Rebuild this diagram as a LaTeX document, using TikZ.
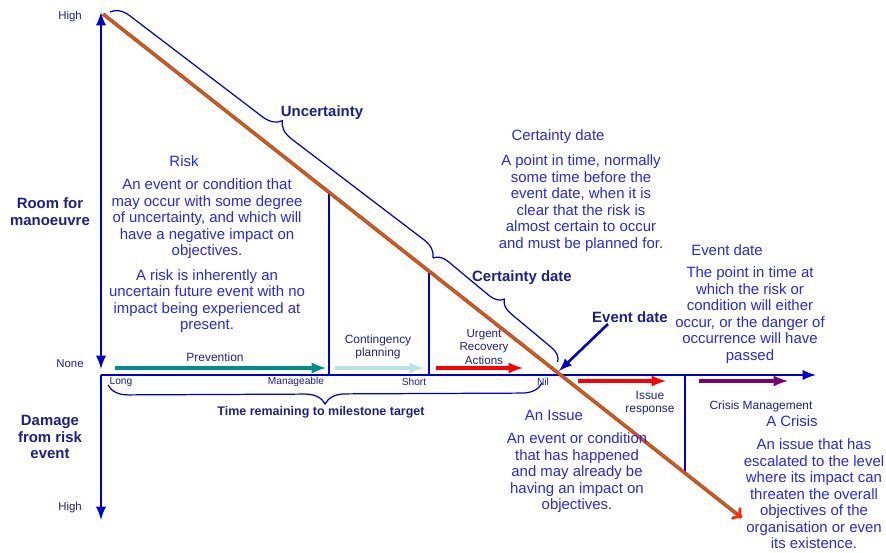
\documentclass[tikz,border=0pt]{standalone}
\usepackage{fontspec}
\setmainfont{Liberation Sans}
\usepackage{tikz}
\usetikzlibrary{backgrounds,arrows,decorations.pathreplacing}
\definecolor{xblue}{RGB}{0,0,205}
\definecolor{xtext}{RGB}{40,40,220}
\definecolor{xnavy}{RGB}{30,30,135}
\definecolor{xteal}{RGB}{0,140,140}
\definecolor{xcyan}{RGB}{185,225,230}
\definecolor{xred}{RGB}{250,0,0}
\definecolor{xpurple}{RGB}{120,0,120}
\definecolor{xorange}{RGB}{240,45,20}
\definecolor{xolive}{RGB}{120,150,40}

\begin{document}
\begin{tikzpicture}[x=0.02cm, y=-0.02cm,
		bodytext/.style={text=xtext, align=center, inner sep=0pt, font=\fontsize{8.5}{9.4}\selectfont},
		boldlabel/.style={text=xnavy, align=center, inner sep=0pt, font=\fontsize{8.5}{9.6}\selectfont\bfseries},
		ticklabel/.style={text=xnavy, inner sep=0pt, font=\fontsize{5.8}{6.5}\selectfont},
		phaselabel/.style={text=xnavy, align=center, inner sep=0pt, font=\fontsize{6.8}{7.6}\selectfont},
		axisline/.style={xblue, line width=1.6pt, ->, >=latex},
		phasearrow/.style={line width=1.8pt, ->, >=latex},
		divider/.style={xblue, line width=1pt},
		bracket/.style={xblue, line width=0.7pt, decorate, decoration={brace, amplitude=#1}}]
			\useasboundingbox (0,0) rectangle (886,553);
			\coordinate (top) at (101,12);
			\coordinate (none) at (101,369);
			\coordinate (origin) at (101,375);
			\coordinate (bottom) at (101,520);
			\coordinate (xend) at (816,375);
			\coordinate (dstart) at (103,14);
			\coordinate (dend) at (742,518);
			\coordinate (dinner) at (736,513);
			\coordinate (manage) at (329,375);
			\coordinate (manageup) at (329,192);
			\coordinate (short) at (429,375);
			\coordinate (shortup) at (429,271);
			\coordinate (crisis) at (685,375);
			\coordinate (crisisdown) at (685,473);
			\coordinate (nil) at (559,371);
			\node[text=xnavy, inner sep=0pt, font=\fontsize{6.5}{7.5}\selectfont] at (70, 17) (hightop) {High};
			\node[text=xnavy, inner sep=0pt, font=\fontsize{6.5}{7.5}\selectfont] at (70, 364) (nonelab) {None};
			\node[text=xnavy, inner sep=0pt, font=\fontsize{6.5}{7.5}\selectfont] at (70, 508) (highbot) {High};
			\node[boldlabel] at (50, 212) (room) {Room for\\manoeuvre};
			\node[boldlabel] at (50, 437) (damage) {Damage\\from risk\\event};
			\node[ticklabel] at (121, 382) (long) {Long};
			\node[ticklabel] at (296, 382) (manageable) {Manageable};
			\node[ticklabel] at (414, 382) (shortlab) {Short};
			\node[ticklabel] at (543, 382) (nillab) {Nil};
			\node[boldlabel, font=\fontsize{7.1}{8}\selectfont\bfseries] at (321, 412) (remaining) {Time remaining to milestone target};
			\node[phaselabel] at (215, 357) (prevention) {Prevention};
			\node[phaselabel] at (378, 347) (contingency) {Contingency\\planning};
			\node[phaselabel, font=\fontsize{6.6}{7.6}\selectfont] at (484, 347) (urgent) {Urgent\\Recovery\\Actions};
			\node[phaselabel] at (650, 403) (issueresp) {Issue\\response};
			\node[phaselabel] at (761, 406) (crisismgmt) {Crisis Management};
			\node[bodytext] at (184, 161) (risktitle) {Risk};
			\node[bodytext] at (207, 219) (riskdef) {An event or condition that\\may occur with some degree\\of uncertainty, and which will\\have a negative impact on\\objectives.};
			\node[bodytext] at (207, 301) (risknote) {A risk is inherently an\\uncertain future event with no\\impact being experienced at\\present.};
			\node[bodytext] at (558, 137) (certtitle) {Certainty date};
			\node[bodytext] at (581, 203) (certdef) {A point in time, normally\\some time before the\\event date, when it is\\clear that the risk is\\almost certain to occur\\and must be planned for.};
			\node[bodytext] at (727, 250) (eventtitle) {Event date};
			\node[bodytext] at (750, 315) (eventdef) {The point in time at\\which the risk or\\condition will either\\occur, or the danger of\\occurrence will have\\passed};
			\node[bodytext] at (554, 415) (issuetitle) {An Issue};
			\node[bodytext] at (577, 473) (issuedef) {An event or condition\\that has happened\\and may already be\\having an impact on\\objectives.};
			\node[bodytext] at (792, 421) (crisistitle) {A Crisis};
			\node[bodytext] at (814, 494) (crisisdef) {An issue that has\\escalated to the level\\where its impact can\\threaten the overall\\objectives of the\\organisation or even\\its existence.};
			\node[boldlabel] at (322, 113) (uncertainty) {Uncertainty};
			\node[boldlabel] at (522, 278) (certainty) {Certainty date};
			\node[boldlabel] at (630, 317) (eventdate) {Event date};
			\coordinate (evtail) at (608, 324);
			\begin{scope}[on background layer]
				\draw[axisline, <->] (top) -- (none);
				\draw[axisline] (origin) -- (bottom);
				\draw[axisline] (origin) -- (xend);
				\draw[divider] (manage) -- (manageup);
				\draw[divider] (short) -- (shortup);
				\draw[divider] (crisis) -- (crisisdown);
				\draw[xorange, line width=2pt, ->] (dstart) -- (dend);
				\draw[xolive, line width=0.6pt] (dstart) -- (dinner);
				\draw[xblue, line width=1.5pt, ->, >=latex] (evtail) -- (nil);
			\end{scope}
			\coordinate (prevs) at (115, 368);
			\coordinate (preve) at (326, 368);
			\coordinate (conts) at (335, 368);
			\coordinate (conte) at (424, 368);
			\coordinate (urgs) at (436, 368);
			\coordinate (urge) at (523, 368);
			\coordinate (isss) at (578, 381);
			\coordinate (isse) at (666, 381);
			\coordinate (cris) at (699, 381);
			\coordinate (crie) at (788, 381);
			\begin{scope}[on background layer]
				\draw[phasearrow, xteal] (prevs) -- (preve);
				\draw[phasearrow, xcyan] (conts) -- (conte);
				\draw[phasearrow, xred] (urgs) -- (urge);
				\draw[phasearrow, xred] (isss) -- (isse);
				\draw[phasearrow, xpurple] (cris) -- (crie);
			\end{scope}
			\coordinate (ubs) at (110, 12);
			\coordinate (ube) at (433, 258);
			\coordinate (cbe) at (558, 362);
			\coordinate (tbs) at (542, 383);
			\coordinate (tbe) at (108, 385);
			\draw[bracket=0.36cm] (ubs) -- (ube);
			\draw[bracket=0.28cm] (ube) -- (cbe);
			\draw[bracket=0.4cm] (tbs) -- (tbe);
		\end{tikzpicture}
\end{document}
